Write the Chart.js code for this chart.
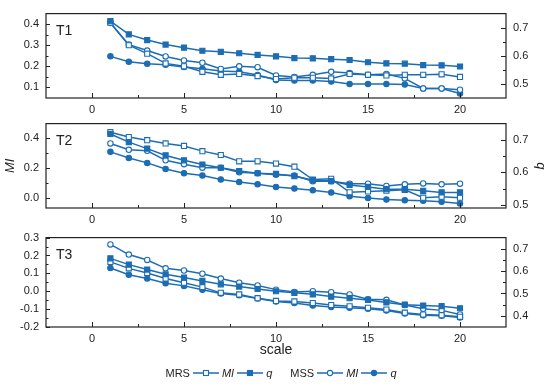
<!DOCTYPE html>
<html>
<head>
<meta charset="utf-8">
<script src="https://cdn.jsdelivr.net/npm/chart.js@4.4.0/dist/chart.umd.min.js"></script>
<style>
  body { margin: 0; background: #fff; width: 550px; height: 385px; position: relative; overflow: hidden;
         font-family: "Liberation Sans", Arial, sans-serif; color: #222; }
  canvas { position: absolute; left: 0; }
  #legend { position: absolute; top: 366px; left: 0; width: 562px; display: flex; justify-content: center;
            align-items: center; font-size: 11px; height: 14px; }
  #legend span, #legend i { margin: 0 2px; }
  #legend svg { margin: 0 1px; }
</style>
</head>
<body>
<canvas id="c1" width="550" height="120" style="top:0px"></canvas>
<canvas id="c2" width="550" height="120" style="top:110px"></canvas>
<canvas id="c3" width="550" height="140" style="top:224px"></canvas>
<div id="legend"></div>

<script>
// ---- data ----
const scaleSteps = [1, 2, 3, 4, 5, 6, 7, 8, 9, 10, 11, 12, 13, 14, 15, 16, 17, 18, 19, 20];

// T1
const t1MrsMI = [0.407, 0.300, 0.260, 0.214, 0.200, 0.174, 0.160, 0.164, 0.154, 0.140, 0.146, 0.146, 0.143, 0.164, 0.160, 0.157, 0.160, 0.160, 0.162, 0.150];
const t1MrsQ  = [0.723, 0.676, 0.656, 0.640, 0.629, 0.618, 0.614, 0.609, 0.603, 0.598, 0.592, 0.591, 0.588, 0.585, 0.577, 0.573, 0.572, 0.567, 0.566, 0.562];
const t1MssMI = [0.405, 0.303, 0.275, 0.247, 0.228, 0.217, 0.188, 0.200, 0.196, 0.157, 0.150, 0.160, 0.174, 0.168, 0.160, 0.164, 0.143, 0.095, 0.095, 0.089];
const t1MssQ  = [0.598, 0.579, 0.572, 0.568, 0.560, 0.554, 0.546, 0.543, 0.532, 0.514, 0.512, 0.512, 0.509, 0.500, 0.500, 0.500, 0.498, 0.484, 0.484, 0.466];

// T2
const t2MrsMI = [0.442, 0.409, 0.388, 0.366, 0.349, 0.314, 0.288, 0.245, 0.245, 0.230, 0.209, 0.122, 0.127, 0.036, 0.042, 0.047, 0.053, 0.000, 0.006, 0.000];
const t2MrsQ  = [0.718, 0.693, 0.673, 0.652, 0.637, 0.624, 0.614, 0.604, 0.597, 0.595, 0.588, 0.576, 0.573, 0.561, 0.555, 0.548, 0.548, 0.543, 0.538, 0.538];
const t2MssMI = [0.366, 0.323, 0.316, 0.252, 0.226, 0.202, 0.202, 0.172, 0.165, 0.155, 0.150, 0.111, 0.111, 0.094, 0.094, 0.079, 0.090, 0.096, 0.090, 0.094];
const t2MssQ  = [0.663, 0.644, 0.629, 0.610, 0.597, 0.590, 0.578, 0.570, 0.563, 0.555, 0.550, 0.545, 0.538, 0.526, 0.521, 0.516, 0.514, 0.512, 0.509, 0.504];

// T3
const t3MrsMI = [0.164, 0.128, 0.102, 0.071, 0.048, 0.023, -0.009, -0.018, -0.039, -0.054, -0.057, -0.066, -0.077, -0.084, -0.093, -0.102, -0.120, -0.130, -0.134, -0.143];
const t3MrsQ  = [0.657, 0.629, 0.607, 0.586, 0.571, 0.556, 0.541, 0.531, 0.520, 0.510, 0.503, 0.496, 0.486, 0.479, 0.471, 0.460, 0.450, 0.446, 0.443, 0.434];
const t3MssMI = [0.262, 0.205, 0.175, 0.128, 0.116, 0.098, 0.071, 0.048, 0.032, 0.009, -0.004, 0.000, -0.005, -0.018, -0.045, -0.048, -0.077, -0.098, -0.107, -0.130];
const t3MssQ  = [0.614, 0.584, 0.567, 0.546, 0.534, 0.517, 0.500, 0.492, 0.477, 0.464, 0.457, 0.446, 0.439, 0.436, 0.432, 0.424, 0.410, 0.403, 0.400, 0.393];

// tick labels
const xTicks = [0, 5, 10, 15, 20];
const t1LeftTicks = [0.1, 0.2, 0.3, 0.4];
const t1RightTicks = [0.5, 0.6, 0.7];
const t2LeftTicks = [0.0, 0.2, 0.4];
const t2RightTicks = [0.5, 0.6, 0.7];
const t3LeftTicks = [-0.2, -0.1, 0.0, 0.1, 0.2, 0.3];
const t3RightTicks = [0.4, 0.5, 0.6, 0.7];

// axis ranges
const xRange = [-2.5, 22.5];
const t1LeftRange = [0.05, 0.45], t1RightRange = [0.45, 0.75];
const t2LeftRange = [-0.07, 0.50], t2RightRange = [0.49, 0.75];
const t3LeftRange = [-0.2, 0.3], t3RightRange = [0.35, 0.75];

// ---- styling ----
const BLUE = '#1c6db4';
const INK = '#222';
Chart.defaults.font.family = '"Liberation Sans", Arial, sans-serif';
Chart.defaults.color = INK;

const fmt = v => (Math.abs(v) < 1e-9 ? 0 : v).toFixed(1);
const pts = vals => scaleSteps.map((s, i) => ({ x: s, y: vals[i] }));

function series(vals, axis, shape, open) {
  return {
    data: pts(vals),
    yAxisID: axis,
    borderColor: BLUE,
    borderWidth: 1.5,
    tension: 0,
    pointStyle: shape,
    pointRadius: shape === 'rect' ? 3.6 : 2.7,
    pointBorderWidth: 1.1,
    pointBorderColor: BLUE,
    pointBackgroundColor: open ? '#fff' : BLUE
  };
}

function minorsOf(vals, min, max) {
  const step = vals[1] - vals[0];
  const out = [];
  for (let v = vals[0] - step / 2; v < max; v += step) {
    if (v > min + 1e-6 && v < max - 1e-6) out.push(v);
  }
  return out;
}

// frame, inward ticks and panel label
const frameTicks = {
  id: 'frameTicks',
  afterDraw(chart, args, opts) {
    const { ctx, chartArea: a, scales } = chart;
    ctx.save();
    ctx.strokeStyle = INK;
    ctx.lineWidth = 1.2;
    ctx.strokeRect(a.left, a.top, a.right - a.left, a.bottom - a.top);
    ctx.lineWidth = 1;
    const line = (x1, y1, x2, y2) => { ctx.beginPath(); ctx.moveTo(x1, y1); ctx.lineTo(x2, y2); ctx.stroke(); };

    const sx = scales.x;
    xTicks.forEach(v => { const p = Math.round(sx.getPixelForValue(v)) + 0.5; line(p, a.bottom, p, a.bottom - 5); });
    minorsOf(xTicks, sx.min, sx.max).forEach(v => { const p = Math.round(sx.getPixelForValue(v)) + 0.5; line(p, a.bottom, p, a.bottom - 3); });

    const sl = scales.y, sr = scales.y1;
    opts.left.forEach(v => { const p = Math.round(sl.getPixelForValue(v)) + 0.5; line(a.left, p, a.left + 4, p); });
    minorsOf(opts.left, sl.min, sl.max).forEach(v => { const p = Math.round(sl.getPixelForValue(v)) + 0.5; line(a.left, p, a.left + 2.5, p); });
    opts.right.forEach(v => { const p = Math.round(sr.getPixelForValue(v)) + 0.5; line(a.right, p, a.right - 5, p); });
    minorsOf(opts.right, sr.min, sr.max).forEach(v => { const p = Math.round(sr.getPixelForValue(v)) + 0.5; line(a.right, p, a.right - 3, p); });

    ctx.fillStyle = INK;
    ctx.font = '14px "Liberation Sans", Arial, sans-serif';
    ctx.textBaseline = 'middle';
    ctx.fillText(opts.label, a.left + 10, a.top + 18);
    ctx.restore();
  }
};

function yAxis(pos, range, tickVals, title) {
  const ax = {
    type: 'linear', position: pos, min: range[0], max: range[1],
    grid: { display: false, drawTicks: false },
    border: { display: false },
    afterBuildTicks: s => { s.ticks = tickVals.map(v => ({ value: v })); },
    afterFit: s => { s.width = pos === 'left' ? 46 : 44; },
    ticks: { padding: 7, font: { size: 11 }, color: INK, callback: v => fmt(v) }
  };
  if (title) {
    ax.title = { display: true, text: title, color: INK, padding: { top: pos === 'left' ? 3 : 2, bottom: 0 },
                 font: { size: 13, style: 'italic' } };
  }
  return ax;
}

function makePanel(id, label, mrsMI, mrsQ, mssMI, mssQ, left, leftTicks, right, rightTicks, opt) {
  const xAx = {
    type: 'linear', min: xRange[0], max: xRange[1],
    grid: { display: false, drawTicks: false },
    border: { display: false },
    afterBuildTicks: s => { s.ticks = xTicks.map(v => ({ value: v })); },
    afterFit: s => { s.height = opt.xHeight; },
    ticks: { padding: 5, font: { size: 11 }, color: INK, maxRotation: 0, callback: v => String(v) }
  };
  if (opt.xTitle) {
    xAx.title = { display: true, text: opt.xTitle, color: INK, padding: { top: 0, bottom: 5 }, font: { size: 14 } };
  }
  new Chart(document.getElementById(id), {
    type: 'line',
    data: {
      datasets: [
        series(mrsQ, 'y1', 'rect', false),
        series(mrsMI, 'y', 'rect', true),
        series(mssMI, 'y', 'circle', true),
        series(mssQ, 'y1', 'circle', false)
      ]
    },
    options: {
      responsive: false,
      animation: false,
      events: [],
      layout: { autoPadding: false, padding: { top: opt.top, left: 0, right: 0, bottom: 0 } },
      scales: {
        x: xAx,
        y: yAxis('left', left, leftTicks, opt.yTitle),
        y1: yAxis('right', right, rightTicks, opt.y1Title)
      },
      plugins: {
        legend: { display: false },
        tooltip: { enabled: false },
        frameTicks: { label, left: leftTicks, right: rightTicks }
      }
    },
    plugins: [frameTicks]
  });
}

makePanel('c1', 'T1', t1MrsMI, t1MrsQ, t1MssMI, t1MssQ, t1LeftRange, t1LeftTicks, t1RightRange, t1RightTicks,
          { top: 5, xHeight: 22 });
makePanel('c2', 'T2', t2MrsMI, t2MrsQ, t2MssMI, t2MssQ, t2LeftRange, t2LeftTicks, t2RightRange, t2RightTicks,
          { top: 10, xHeight: 22, yTitle: 'MI', y1Title: 'q' });
makePanel('c3', 'T3', t3MrsMI, t3MrsQ, t3MssMI, t3MssQ, t3LeftRange, t3LeftTicks, t3RightRange, t3RightTicks,
          { top: 10, xHeight: 37, xTitle: 'scale' });

// ---- legend ----
function sample(shape, open) {
  const fill = open ? '#fff' : BLUE;
  const mark = shape === 'rect'
    ? `<rect x="10.5" y="2.5" width="5" height="5" fill="${fill}" stroke="${BLUE}" stroke-width="1.1"/>`
    : `<circle cx="13" cy="5" r="2.6" fill="${fill}" stroke="${BLUE}" stroke-width="1.1"/>`;
  return `<svg width="26" height="10"><line x1="0" y1="5" x2="26" y2="5" stroke="${BLUE}" stroke-width="1.5"/>${mark}</svg>`;
}
document.getElementById('legend').innerHTML =
  `<span>MRS</span>${sample('rect', true)}<i>MI</i>${sample('rect', false)}<i>q</i>` +
  `<span style="margin-left:16px">MSS</span>${sample('circle', true)}<i>MI</i>${sample('circle', false)}<i>q</i>`;
</script>
</body>
</html>
